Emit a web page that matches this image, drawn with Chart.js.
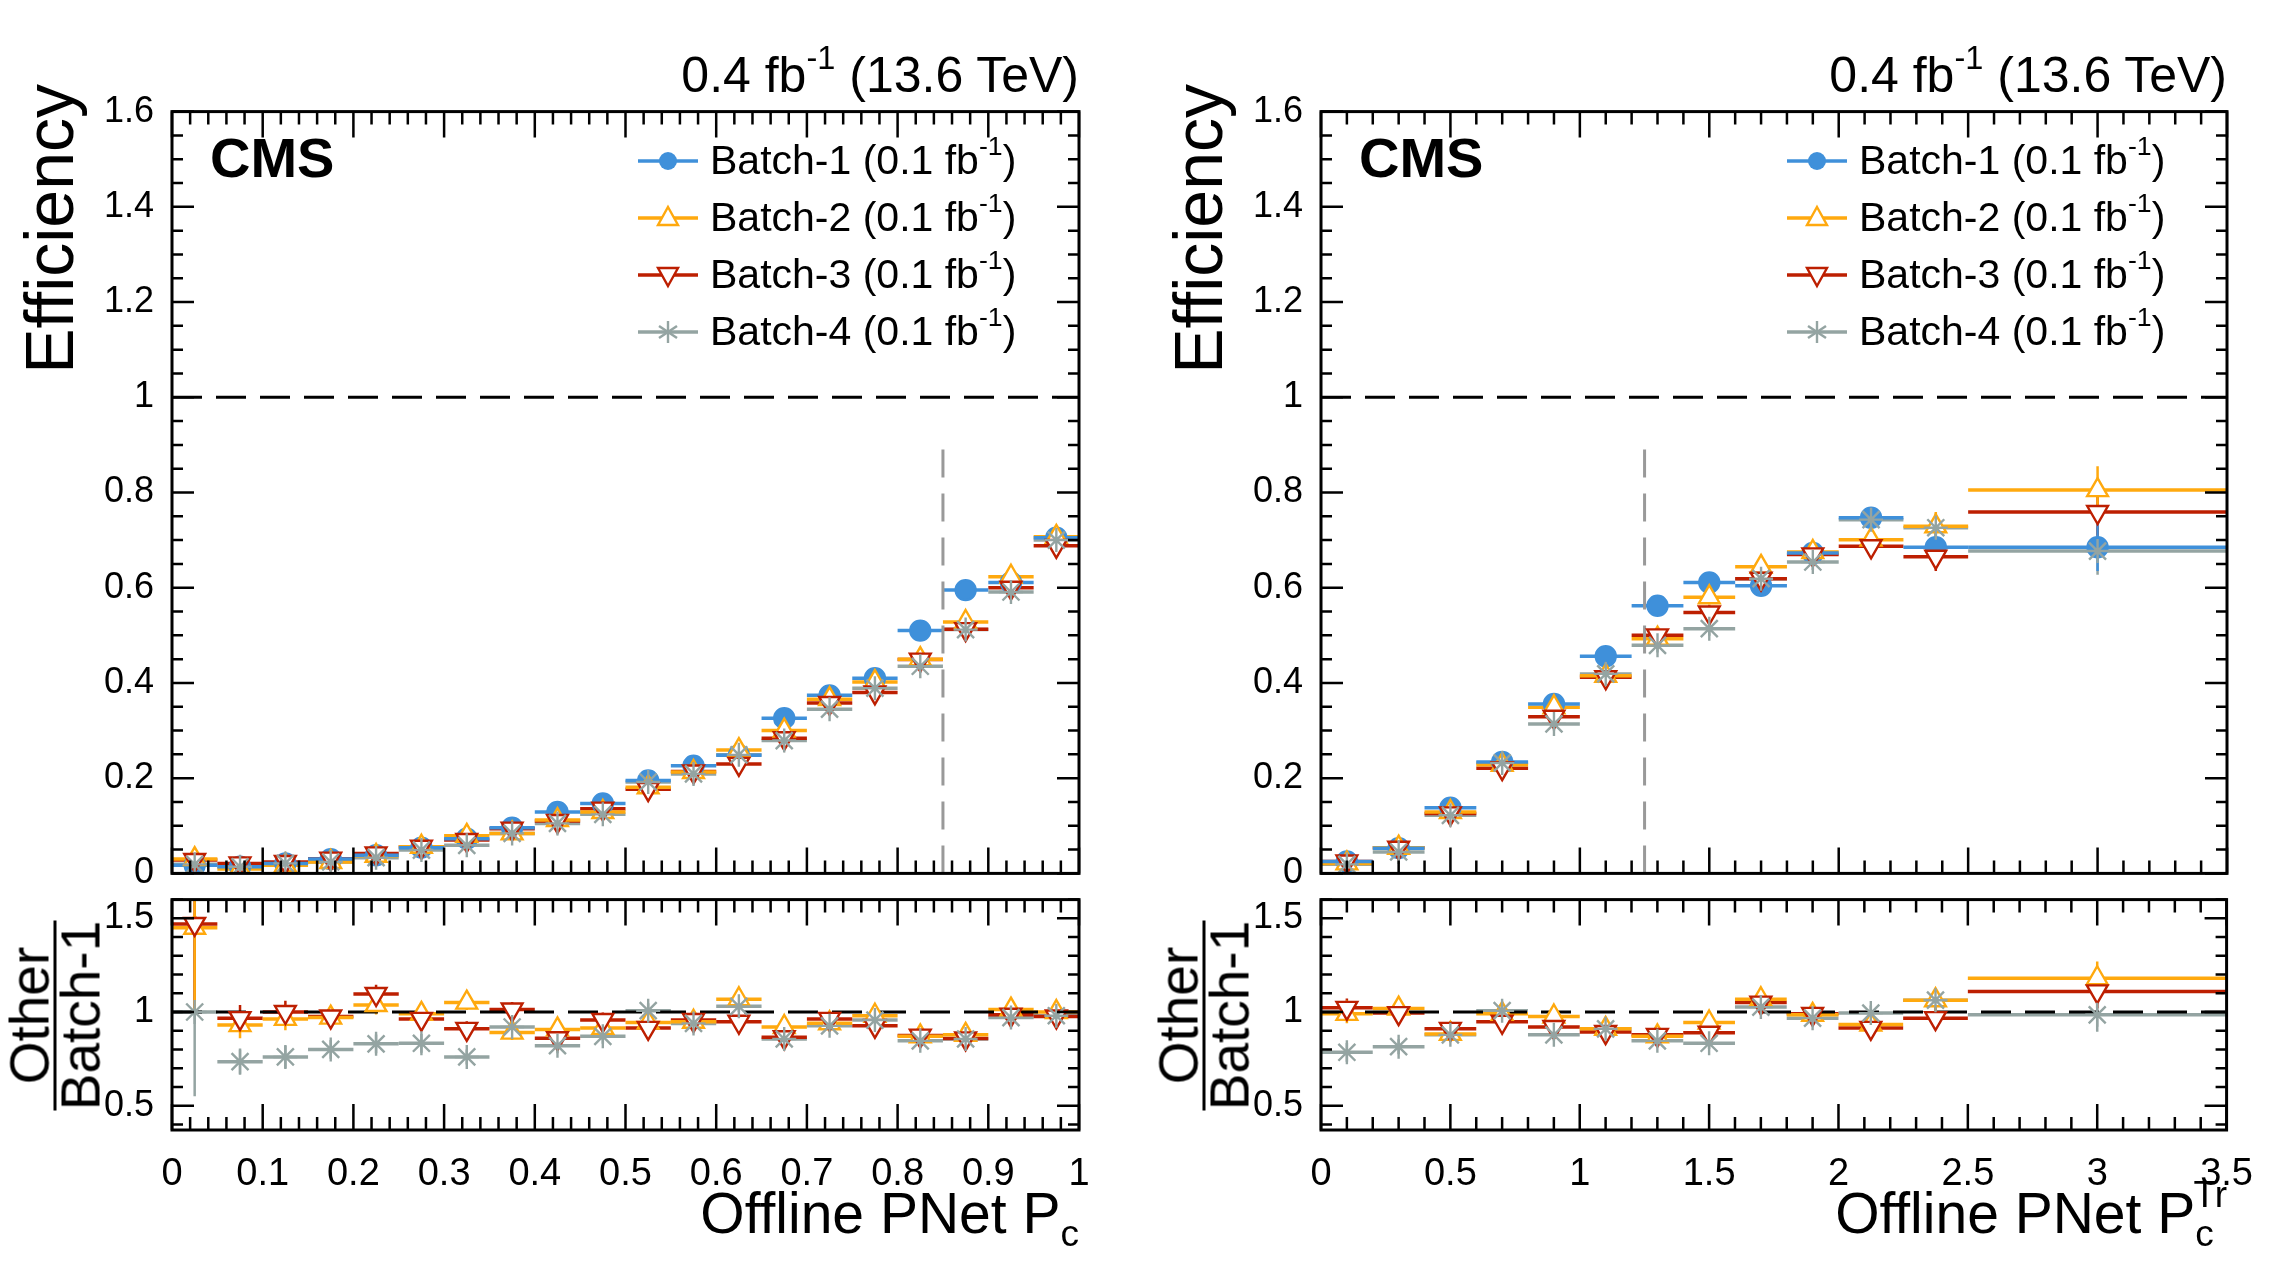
<!DOCTYPE html>
<html><head><meta charset="utf-8">
<script src="https://cdn.jsdelivr.net/npm/chart.js@4.4.1/dist/chart.umd.min.js"></script>
<style>
body{margin:0;background:#fff;width:2284px;height:1278px;position:relative;overflow:hidden;font-family:"Liberation Sans",Arial,sans-serif;}
canvas{position:absolute;}
.t{position:absolute;white-space:nowrap;color:#000;}
sup{font-size:65%;vertical-align:0.7em;line-height:0}
sub{font-size:65%;vertical-align:-0.35em;line-height:0}
.leg{position:absolute;font-size:41px;display:flex;align-items:center;white-space:nowrap}
.leg svg{margin-right:12px}
</style></head><body>
<canvas id="mL"></canvas><canvas id="rL"></canvas><canvas id="mR"></canvas><canvas id="rR"></canvas>
<script>
// ---------- DATA ----------
// Left: Offline PNet Pc, 20 bins of width 0.05
const binsLeftLo = [0,0.05,0.1,0.15,0.2,0.25,0.3,0.35,0.4,0.45,0.5,0.55,0.6,0.65,0.7,0.75,0.8,0.85,0.9,0.95];
const binsLeftHi = [0.05,0.1,0.15,0.2,0.25,0.3,0.35,0.4,0.45,0.5,0.55,0.6,0.65,0.7,0.75,0.8,0.85,0.9,0.95,1.0];
const effLeftB1 = [0.017,0.014,0.021,0.030,0.038,0.054,0.073,0.096,0.129,0.147,0.195,0.226,0.248,0.326,0.374,0.410,0.510,0.595,0.611,0.705];
const effLeftB2 = [0.030,0.009,0.017,0.024,0.037,0.056,0.079,0.084,0.112,0.129,0.181,0.213,0.259,0.300,0.366,0.402,0.450,0.528,0.623,0.707];
const effLeftB3 = [0.028,0.021,0.024,0.031,0.042,0.056,0.070,0.094,0.110,0.136,0.177,0.214,0.230,0.284,0.358,0.380,0.449,0.513,0.600,0.688];
const effLeftB4 = [0.019,0.014,0.021,0.024,0.033,0.049,0.059,0.084,0.105,0.124,0.192,0.209,0.249,0.279,0.345,0.389,0.435,0.512,0.591,0.700];
const errLeft   = [0.010,0.008,0.008,0.008,0.009,0.009,0.010,0.010,0.011,0.011,0.012,0.012,0.013,0.013,0.013,0.013,0.014,0.014,0.014,0.013];
const ratioLeftB2 = [1.45,0.93,0.963,0.97,1.037,0.99,1.05,0.89,0.907,0.915,0.944,0.948,1.068,0.92,0.94,0.98,0.87,0.878,1.013,1.0];
const ratioLeftB3 = [1.47,0.967,1.0,0.976,1.096,0.963,0.91,1.013,0.86,0.957,0.915,0.957,0.948,0.865,0.963,0.926,0.874,0.859,0.985,0.976];
const ratioLeftB4 = [1.0,0.735,0.76,0.80,0.83,0.833,0.76,0.92,0.82,0.87,1.007,0.939,1.03,0.856,0.926,0.957,0.846,0.856,0.97,0.98];
const rerrLeft    = [0.45,0.07,0.06,0.05,0.05,0.05,0.04,0.04,0.04,0.04,0.04,0.03,0.03,0.03,0.03,0.03,0.03,0.02,0.02,0.02];
// Right: Offline PNet Pc^Tr
const binsRightLo = [0,0.2,0.4,0.6,0.8,1.0,1.2,1.4,1.6,1.8,2.0,2.25,2.5];
const binsRightHi = [0.2,0.4,0.6,0.8,1.0,1.2,1.4,1.6,1.8,2.0,2.25,2.5,3.5];
const effRightB1 = [0.025,0.053,0.138,0.234,0.356,0.456,0.562,0.611,0.604,0.673,0.747,0.685,0.685];
const effRightB2 = [0.021,0.054,0.129,0.228,0.349,0.415,0.493,0.580,0.644,0.675,0.701,0.729,0.805];
const effRightB3 = [0.025,0.054,0.126,0.221,0.329,0.412,0.500,0.548,0.619,0.670,0.687,0.665,0.759];
const effRightB4 = [0.019,0.045,0.122,0.232,0.314,0.419,0.479,0.514,0.619,0.654,0.743,0.726,0.677];
const errRight   = [0.008,0.010,0.012,0.013,0.014,0.014,0.015,0.015,0.016,0.017,0.020,0.030,0.050];
const ratioRightB2 = [0.99,1.018,0.883,0.99,0.976,0.91,0.87,0.944,1.068,0.985,0.933,1.063,1.18];
const ratioRightB3 = [1.022,0.994,0.91,0.948,0.92,0.893,0.878,0.889,1.05,0.99,0.915,0.967,1.11];
const ratioRightB4 = [0.785,0.815,0.878,1.007,0.878,0.91,0.846,0.833,1.026,0.967,0.994,1.063,0.985];
const rerrRight    = [0.05,0.04,0.04,0.03,0.03,0.03,0.03,0.03,0.03,0.03,0.04,0.06,0.09];
// Tick labels
const effTicks = [0,0.2,0.4,0.6,0.8,1,1.2,1.4,1.6];
const ratioTicks = [0.5,1,1.5];
const xTicksLeft = [0,0.1,0.2,0.3,0.4,0.5,0.6,0.7,0.8,0.9,1];
const xTicksRight = [0,0.5,1,1.5,2,2.5,3,3.5];
const seriesNames = ["Batch-1 (0.1 fb<sup>-1</sup>)","Batch-2 (0.1 fb<sup>-1</sup>)","Batch-3 (0.1 fb<sup>-1</sup>)","Batch-4 (0.1 fb<sup>-1</sup>)"];

// ---------- STYLE ----------
const COL = ['#3f90da','#ffa90e','#bd1f01','#94a4a2'];
const FONT = '"Liberation Sans", Arial, sans-serif';
function ds(i, lo, hi, vals, errs){
  const styles = [
    {pointStyle:'circle', bg:COL[0], rot:0},
    {pointStyle:'triangle', bg:'#fff', rot:0},
    {pointStyle:'triangle', bg:'#fff', rot:180},
    {pointStyle:'star', bg:COL[3], rot:0}];
  const s = styles[i];
  return {data: vals.map((v,k)=>({x:(lo[k]+hi[k])/2, y:v})), lo, hi, err: errs,
    pointStyle:s.pointStyle, pointRotation:s.rot, pointRadius: i===0?10:12, pointBorderWidth:2.4,
    borderColor:COL[i], backgroundColor:s.bg, showLine:false, barColor:COL[i]};
}
const histo = {id:'histo', beforeDatasetsDraw(c){
  const ctx=c.ctx, xs=c.scales.x, ys=c.scales.y, a=c.chartArea;
  ctx.save(); ctx.beginPath(); ctx.rect(a.left,a.top,a.right-a.left,a.bottom-a.top); ctx.clip();
  c.data.datasets.forEach(d=>{
    ctx.strokeStyle=d.barColor; ctx.lineWidth=3.5;
    d.data.forEach((p,k)=>{
      const y=ys.getPixelForValue(p.y);
      ctx.beginPath(); ctx.moveTo(xs.getPixelForValue(d.lo[k]),y); ctx.lineTo(xs.getPixelForValue(d.hi[k]),y); ctx.stroke();
      const e=d.err[k], xc=xs.getPixelForValue(p.x);
      ctx.lineWidth=2.5; ctx.beginPath(); ctx.moveTo(xc,ys.getPixelForValue(p.y-e)); ctx.lineTo(xc,ys.getPixelForValue(p.y+e)); ctx.stroke(); ctx.lineWidth=3.5;
    });
  });
  ctx.restore();
  const o=c.options.plugins.histo;
  ctx.save(); ctx.setLineDash([30,14]); ctx.lineWidth=3; ctx.strokeStyle='#000';
  const y1=ys.getPixelForValue(1); ctx.beginPath(); ctx.moveTo(a.left,y1); ctx.lineTo(a.right,y1); ctx.stroke();
  if(o.vline!==undefined){ ctx.strokeStyle='#999'; ctx.lineWidth=3; ctx.setLineDash([28,16]);
    const xv=xs.getPixelForValue(o.vline); ctx.beginPath(); ctx.moveTo(xv,ys.getPixelForValue(0)); ctx.lineTo(xv,ys.getPixelForValue(0.9)); ctx.stroke(); }
  ctx.restore();
}, afterDraw(c){
  const ctx=c.ctx, xs=c.scales.x, ys=c.scales.y, a=c.chartArea, o=c.options.plugins.histo;
  ctx.save(); ctx.strokeStyle='#000'; ctx.lineWidth=3;
  ctx.strokeRect(a.left,a.top,a.right-a.left,a.bottom-a.top);
  ctx.lineWidth=2.5;
  const tk=(min,max,step,majStep,fn)=>{ const n=Math.round((max-min)/step);
    for(let i=0;i<=n;i++){const v=min+i*step; const maj=Math.abs(v/majStep-Math.round(v/majStep))<1e-6; fn(v,maj);} };
  tk(o.xmin,o.xmax,o.xminor,o.xmajor,(v,maj)=>{const x=xs.getPixelForValue(v); const L=maj?o.xl:o.xl/2;
    ctx.beginPath(); ctx.moveTo(x,a.bottom); ctx.lineTo(x,a.bottom-L); ctx.moveTo(x,a.top); ctx.lineTo(x,a.top+L); ctx.stroke();});
  tk(o.ymin,o.ymax,o.yminor,o.ymajor,(v,maj)=>{const y=ys.getPixelForValue(v); if(y<a.top-1||y>a.bottom+1)return; const L=maj?22:11;
    ctx.beginPath(); ctx.moveTo(a.left,y); ctx.lineTo(a.left+L,y); ctx.moveTo(a.right,y); ctx.lineTo(a.right-L,y); ctx.stroke();});
  ctx.restore();
}};
Chart.register(histo);

function make(id, x0,x1,y0,y1, xmax, xTicks, showX, yTicks, ymin, ymax, datasets, hopt){
  const YW=110, XH=showX?60:0;
  const bl=x0-YW-20, bw=(x1-x0)+YW+20+40, bt=y0-30, bh=(y1-y0)+30+XH+20;
  const cv=document.getElementById(id); cv.width=bw; cv.height=bh; cv.style.left=bl+'px'; cv.style.top=bt+'px';
  const fmt=v=>String(+v.toFixed(2));
  new Chart(cv,{type:'scatter',data:{datasets},options:{
    animation:false,responsive:false,devicePixelRatio:1,events:[],
    layout:{padding:{left:20,right:40,top:30,bottom:20}},
    plugins:{legend:{display:false},tooltip:{enabled:false},histo:hopt},
    scales:{
      x:{type:'linear',min:0,max:xmax,grid:{display:false},border:{display:false},
        afterBuildTicks:s=>{s.ticks=xTicks.map(v=>({value:v}));},
        afterFit:s=>{s.height=XH;},
        ticks:{display:showX,maxRotation:0,autoSkip:false,callback:fmt,color:'#000',font:{family:FONT,size:38},padding:14}},
      y:{type:'linear',min:ymin,max:ymax,grid:{display:false},border:{display:false},
        afterBuildTicks:s=>{s.ticks=yTicks.map(v=>({value:v}));},
        afterFit:s=>{s.width=YW;},
        ticks:{autoSkip:false,callback:fmt,color:'#000',font:{family:FONT,size:36},padding:10}}
    }}});
}
const LX0=172,LX1=1079,RX0=1321,RX1=2227,MY0=110,MY1=885,RY0=898,RY1=1130;
make('mL',LX0,LX1,MY0,MY1,1,xTicksLeft,false,effTicks,0,1.6,[
  ds(0,binsLeftLo,binsLeftHi,effLeftB1,errLeft),ds(1,binsLeftLo,binsLeftHi,effLeftB2,errLeft),
  ds(2,binsLeftLo,binsLeftHi,effLeftB3,errLeft),ds(3,binsLeftLo,binsLeftHi,effLeftB4,errLeft)].reverse(),
  {vline:0.85,xmin:0,xmax:1,xminor:0.02,xmajor:0.1,xl:26,ymin:0,ymax:1.6,yminor:0.05,ymajor:0.2});
make('rL',LX0,LX1,RY0,RY1,1,xTicksLeft,true,ratioTicks,0.37,1.6,[
  ds(1,binsLeftLo,binsLeftHi,ratioLeftB2,rerrLeft),ds(2,binsLeftLo,binsLeftHi,ratioLeftB3,rerrLeft),
  ds(3,binsLeftLo,binsLeftHi,ratioLeftB4,rerrLeft)].reverse(),
  {xmin:0,xmax:1,xminor:0.02,xmajor:0.1,xl:26,ymin:0.4,ymax:1.6,yminor:0.1,ymajor:0.5});
make('mR',RX0,RX1,MY0,MY1,3.5,xTicksRight,false,effTicks,0,1.6,[
  ds(0,binsRightLo,binsRightHi,effRightB1,errRight),ds(1,binsRightLo,binsRightHi,effRightB2,errRight),
  ds(2,binsRightLo,binsRightHi,effRightB3,errRight),ds(3,binsRightLo,binsRightHi,effRightB4,errRight)].reverse(),
  {vline:1.25,xmin:0,xmax:3.5,xminor:0.1,xmajor:0.5,xl:26,ymin:0,ymax:1.6,yminor:0.05,ymajor:0.2});
make('rR',RX0,RX1,RY0,RY1,3.5,xTicksRight,true,ratioTicks,0.37,1.6,[
  ds(1,binsRightLo,binsRightHi,ratioRightB2,rerrRight),ds(2,binsRightLo,binsRightHi,ratioRightB3,rerrRight),
  ds(3,binsRightLo,binsRightHi,ratioRightB4,rerrRight)].reverse(),
  {xmin:0,xmax:3.5,xminor:0.1,xmajor:0.5,xl:26,ymin:0.4,ymax:1.6,yminor:0.1,ymajor:0.5});

// ---------- TEXT OVERLAYS ----------
function add(html, css){const d=document.createElement('div'); d.className='t'; d.innerHTML=html; Object.assign(d.style,css); document.body.appendChild(d); return d;}
const markers=[
  `<circle cx="30" cy="20" r="9" fill="${COL[0]}"/>`,
  `<polygon points="30,9 40,27 20,27" fill="#fff" stroke="${COL[1]}" stroke-width="2.4"/>`,
  `<polygon points="30,31 40,13 20,13" fill="#fff" stroke="${COL[2]}" stroke-width="2.4"/>`,
  `<g stroke="${COL[3]}" stroke-width="2.4"><line x1="30" y1="9" x2="30" y2="31"/><line x1="21" y1="14" x2="39" y2="26"/><line x1="21" y1="26" x2="39" y2="14"/></g>`];
[[LX0,LX1],[RX0,RX1]].forEach(([x0,x1],p)=>{
  add('0.4 fb<sup>-1</sup> (13.6 TeV)',{right:(2284-x1)+'px',top:'46px',fontSize:'50px'});
  add('CMS',{left:(x0+38)+'px',top:'125px',fontSize:'56px',fontWeight:'bold'});
  seriesNames.forEach((n,i)=>{
    const d=document.createElement('div'); d.className='leg';
    d.style.left=(x0+466)+'px'; d.style.top=(137+i*57)+'px';
    d.innerHTML=`<svg width="60" height="40"><line x1="0" y1="20" x2="60" y2="20" stroke="${COL[i]}" stroke-width="3.5"/>${markers[i]}</svg><span>${n}</span>`;
    document.body.appendChild(d);
  });
  add('Efficiency',{left:(x0-283)+'px',top:'210px',fontSize:'68px',transform:'rotate(-90deg)',transformOrigin:'center',width:'320px',textAlign:'right',lineHeight:'68px'});
  add('<div style="text-align:center;line-height:48px"><div style="border-bottom:3px solid #000;padding:0 4px">Other</div><div>Batch-1</div></div>',
    {left:(x0-237)+'px',top:'966px',fontSize:'55px',transform:'rotate(-90deg)',transformOrigin:'center',width:'240px',display:'flex',justifyContent:'center'});
  add(p===0?'Offline PNet P<sub>c</sub>':'Offline PNet P<sub>c</sub><sup style="margin-left:-0.55em">Tr</sup>',
    {right:(2284-x1)+'px',top:'1180px',fontSize:'57px'});
});
</script></body></html>
